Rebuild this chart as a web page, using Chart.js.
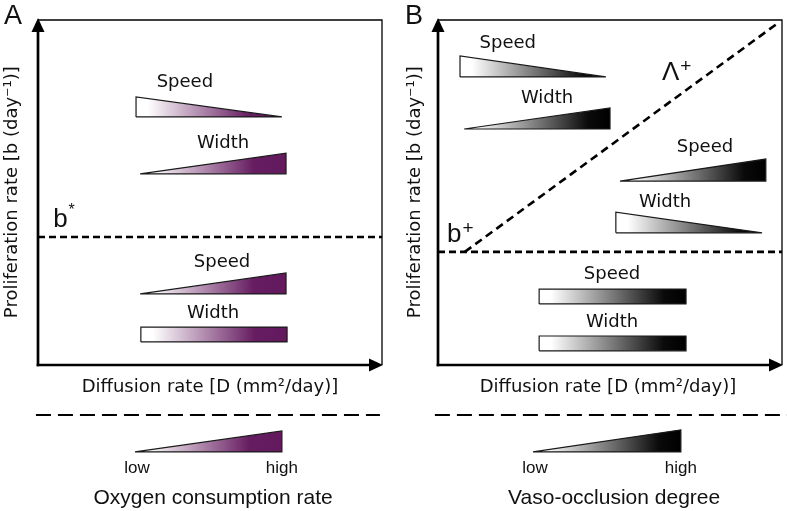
<!DOCTYPE html>
<html><head><meta charset="utf-8">
<script src="https://cdn.jsdelivr.net/npm/chart.js@4.4.1/dist/chart.umd.min.js"></script>
<style>
html,body{margin:0;padding:0;background:#fff;width:787px;height:511px;overflow:hidden}
#wrapA{position:absolute;left:0;top:0;width:395px;height:511px}
#wrapB{position:absolute;left:395px;top:0;width:392px;height:511px}
canvas{display:block}
</style></head><body>
<div id="wrapA"><canvas id="cA" width="395" height="511"></canvas></div>
<div id="wrapB"><canvas id="cB" width="392" height="511"></canvas></div>
<script>
// ---------- schematic axis ranges (arbitrary units) ----------
const X_RANGE = [0, 10];
const Y_RANGE = [-4.232, 10];
const axisTitleX = 'Diffusion rate [D (mm\u00B2/day)]';
const axisTitleY = 'Proliferation rate [b (day\u207B\u00B9)]';

// ---------- Panel A : oxygen consumption (purple) ----------
const namesA  = ['Speed', 'Width', 'Speed', 'Width'];
const kindsA  = ['dec', 'inc', 'inc', 'rect'];
const startA  = [2.85, 2.97, 2.97, 2.99];
const endA    = [7.09, 7.21, 7.21, 7.24];
const lowA    = [7.19, 5.54, 2.06, 0.67];
const highA   = [7.77, 6.14, 2.67, 1.10];
const labelXA = [4.27, 5.38, 5.35, 5.09];
const labelYA = [8.20, 6.43, 2.99, 1.51];
const thresholdA = 3.71;            // b*
const legendA = {name: 'Oxygen consumption rate', start: 2.82, end: 7.09, low: -2.52, high: -1.91};

// ---------- Panel B : vaso-occlusion (grey) ----------
const namesB  = ['Speed', 'Width', 'Speed', 'Width', 'Speed', 'Width'];
const kindsB  = ['dec', 'inc', 'inc', 'dec', 'rect', 'rect'];
const startB  = [0.64, 0.76, 5.29, 5.17, 2.94, 2.94];
const endB    = [4.88, 5.00, 9.53, 9.42, 7.21, 7.21];
const lowB    = [8.35, 6.84, 5.33, 3.83, 1.77, 0.41];
const highB   = [8.96, 7.45, 5.97, 4.43, 2.20, 0.84];
const labelXB = [2.03, 3.17, 7.76, 6.60, 5.06, 5.06];
const labelYB = [9.33, 7.74, 6.32, 4.72, 2.64, 1.25];
const thresholdB = 3.28;            // b+
const lambdaLineX = [0.78, 9.88];   // Λ+ boundary
const lambdaLineY = [3.28, 9.91];
const legendB = {name: 'Vaso-occlusion degree', start: 2.76, end: 7.06, low: -2.52, high: -1.88};

const separatorY = -1.45;

const PURPLE_STOPS = [[0, '#ffffff'], [0.08, '#ffffff'], [0.78, '#661c61'], [1, '#621a5d']];
const GREY_STOPS   = [[0, '#ffffff'], [0.08, '#ffffff'], [0.85, '#0a0a0a'], [1, '#000000']];

function shapePoints(kind, x0, x1, lo, hi) {
  if (kind === 'dec') return [{x:x0,y:lo},{x:x0,y:hi},{x:x1,y:lo},{x:x0,y:lo}];
  if (kind === 'inc') return [{x:x0,y:lo},{x:x1,y:hi},{x:x1,y:lo},{x:x0,y:lo}];
  return [{x:x0,y:lo},{x:x0,y:hi},{x:x1,y:hi},{x:x1,y:lo},{x:x0,y:lo}];
}
function gradientFill(stops, x0, x1) {
  return (ctx) => {
    const chart = ctx.chart;
    if (!chart.chartArea) return 'rgba(0,0,0,0)';
    const xs = chart.scales.x;
    const g = chart.ctx.createLinearGradient(xs.getPixelForValue(x0), 0, xs.getPixelForValue(x1), 0);
    stops.forEach(([o, c]) => g.addColorStop(o, c));
    return g;
  };
}
function shapeDataset(kind, x0, x1, lo, hi, stops) {
  return {
    data: shapePoints(kind, x0, x1, lo, hi),
    showLine: true, fill: 'shape', clip: false,
    borderColor: '#1a1a1a', borderWidth: 1.2, borderJoinStyle: 'miter',
    backgroundColor: gradientFill(stops, x0, x1),
    pointRadius: 0, tension: 0
  };
}
function dashDataset(xs, ys, dash, width) {
  return {
    data: xs.map((x, i) => ({x, y: ys[i]})),
    showLine: true, fill: false, clip: false,
    borderColor: '#000', borderWidth: width, borderDash: dash,
    pointRadius: 0, tension: 0
  };
}

function arrow(ctx, x, y, dir) {
  const L = 14, W = 6.5;
  ctx.beginPath();
  if (dir === 'up') { ctx.moveTo(x, y); ctx.lineTo(x - W, y + L); ctx.lineTo(x + W, y + L); }
  else { ctx.moveTo(x, y); ctx.lineTo(x - L, y - W); ctx.lineTo(x - L, y + W); }
  ctx.closePath(); ctx.fill();
}

function makePanel(canvasId, p) {
  const datasets = [];
  p.names.forEach((n, i) => datasets.push(shapeDataset(p.kinds[i], p.start[i], p.end[i], p.low[i], p.high[i], p.stops)));
  datasets.push(dashDataset([X_RANGE[0], X_RANGE[1]], [p.threshold, p.threshold], [7, 4], 2.6));
  if (p.lineX) datasets.push(dashDataset(p.lineX, p.lineY, [8, 5], 2.6));
  datasets.push(dashDataset(p.sepX, [separatorY, separatorY], [15, 7], 1.8));
  datasets.push(shapeDataset('inc', p.legend.start, p.legend.end, p.legend.low, p.legend.high, p.stops));

  const decor = {
    id: 'decor',
    afterDraw(chart) {
      const ctx = chart.ctx, xs = chart.scales.x, ys = chart.scales.y;
      const x0 = xs.getPixelForValue(0), x1 = xs.getPixelForValue(10);
      const y0 = ys.getPixelForValue(0), y1 = ys.getPixelForValue(10);
      ctx.save();
      ctx.fillStyle = '#000'; ctx.strokeStyle = '#000';
      // frame (top/right)
      ctx.lineWidth = 1.3;
      ctx.beginPath(); ctx.moveTo(x0, y1); ctx.lineTo(x1, y1); ctx.lineTo(x1, y0); ctx.stroke();
      // axes
      ctx.lineWidth = 2.7; ctx.lineCap = 'butt';
      ctx.beginPath(); ctx.moveTo(x0, y0 + 1.3); ctx.lineTo(x0, y1 + 8); ctx.stroke();
      ctx.beginPath(); ctx.moveTo(x0 - 1.3, y0); ctx.lineTo(x1 - 8, y0); ctx.stroke();
      arrow(ctx, x0, y1 - 2, 'up');
      arrow(ctx, x1 + 1, y0, 'right');

      ctx.fillStyle = '#111';
      // shape labels
      ctx.font = '18px "DejaVu Sans"'; ctx.textAlign = 'center'; ctx.textBaseline = 'middle';
      p.names.forEach((n, i) => ctx.fillText(n, xs.getPixelForValue(p.labelX[i]), ys.getPixelForValue(p.labelY[i])));
      // axis titles
      ctx.fillText(axisTitleX, xs.getPixelForValue(p.titleXPos), ys.getPixelForValue(-0.64));
      ctx.save();
      ctx.translate(xs.getPixelForValue(p.titleYPos), ys.getPixelForValue(5.01));
      ctx.rotate(-Math.PI / 2);
      ctx.fillText(axisTitleY, 0, 0);
      ctx.restore();
      // panel letter
      ctx.font = '27px "Liberation Sans"'; ctx.textAlign = 'left'; ctx.textBaseline = 'alphabetic';
      ctx.fillText(p.letter, chart.chartArea.left - p.letterOffset, 24);
      // threshold symbols
      p.symbols.forEach(s => {
        const sx = xs.getPixelForValue(s.x), sy = ys.getPixelForValue(s.y);
        ctx.font = '26px "Liberation Sans"'; ctx.textAlign = 'left'; ctx.textBaseline = 'alphabetic';
        ctx.fillText(s.base, sx, sy);
        const w = ctx.measureText(s.base).width;
        ctx.font = s.supSize + 'px "Liberation Sans"';
        ctx.fillText(s.sup, sx + w + 1, sy - s.supRise);
      });
      // legend texts
      ctx.font = '17px "Liberation Sans"'; ctx.textAlign = 'center'; ctx.textBaseline = 'middle';
      ctx.fillText('low', xs.getPixelForValue(p.legend.start + 0.06), ys.getPixelForValue(-2.99));
      ctx.fillText('high', xs.getPixelForValue(p.legend.end), ys.getPixelForValue(-2.99));
      ctx.font = '21px "Liberation Sans"';
      ctx.fillText(p.legend.name, xs.getPixelForValue(p.captionX), ys.getPixelForValue(-3.86));
      ctx.restore();
    }
  };

  return new Chart(document.getElementById(canvasId), {
    type: 'scatter',
    data: {datasets},
    options: {
      responsive: false, animation: false, events: [],
      layout: {padding: p.padding},
      scales: {
        x: {type: 'linear', display: false, min: X_RANGE[0], max: X_RANGE[1]},
        y: {type: 'linear', display: false, min: Y_RANGE[0], max: Y_RANGE[1]}
      },
      plugins: {legend: {display: false}, tooltip: {enabled: false}}
    },
    plugins: [decor]
  });
}

makePanel('cA', {
  names: namesA, kinds: kindsA, start: startA, end: endA, low: lowA, high: highA,
  labelX: labelXA, labelY: labelYA, threshold: thresholdA, stops: PURPLE_STOPS,
  legend: legendA, sepX: [-0.06, 9.94], captionX: 5.09, titleXPos: 5.0, titleYPos: -0.76,
  letter: 'A', letterOffset: 34,
  symbols: [{base: 'b', sup: '*', x: 0.44, y: 4.0, supSize: 16, supRise: 12}],
  padding: {left: 38, right: 13, top: 20, bottom: 0}
});
makePanel('cB', {
  names: namesB, kinds: kindsB, start: startB, end: endB, low: lowB, high: highB,
  labelX: labelXB, labelY: labelYB, threshold: thresholdB, stops: GREY_STOPS,
  lineX: lambdaLineX, lineY: lambdaLineY,
  legend: legendB, sepX: [-0.09, 10.2], captionX: 5.12, titleXPos: 4.94, titleYPos: -0.67,
  letter: 'B', letterOffset: 33,
  symbols: [{base: 'b', sup: '+', x: 0.26, y: 3.57, supSize: 19, supRise: 8},
            {base: '\u039B', sup: '+', x: 6.51, y: 8.26, supSize: 19, supRise: 8}],
  padding: {left: 43, right: 5, top: 20, bottom: 0}
});
</script>
</body></html>
